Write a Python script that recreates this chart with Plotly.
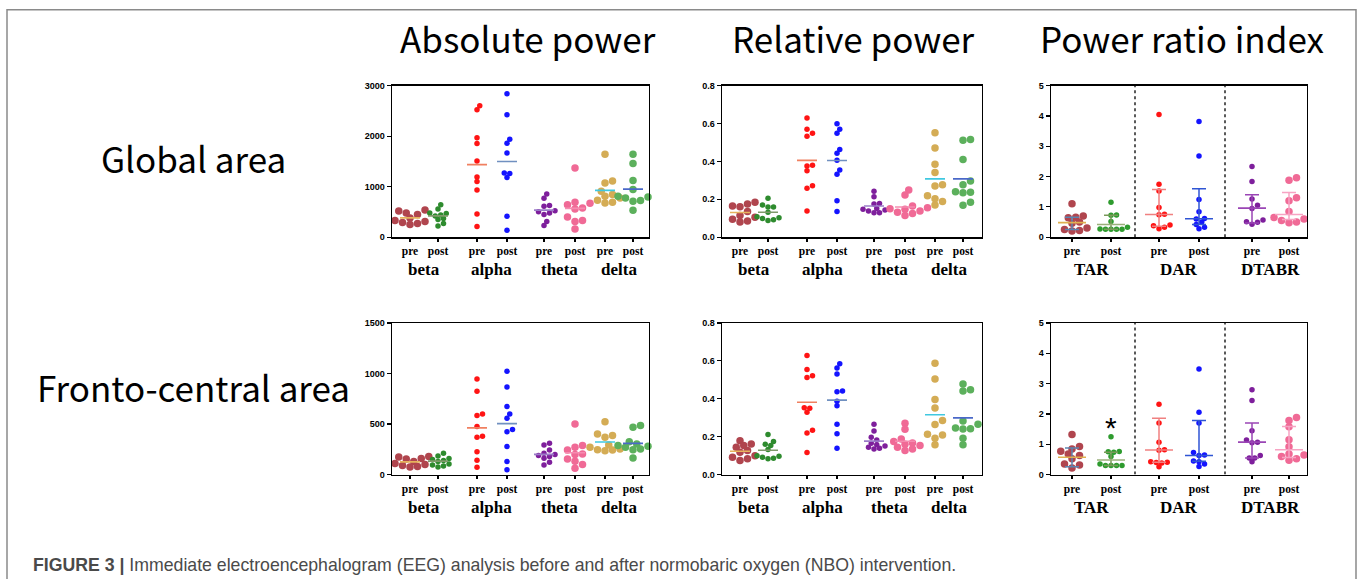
import numpy as np
import plotly.graph_objects as go

# ---------------- data ----------------
BANDS = ["beta", "alpha", "theta", "delta"]
PHASES = ["pre", "post"]
RATIOS = ["TAR", "DAR", "DTABR"]

# order of series: beta pre, beta post, alpha pre, alpha post, theta pre, theta post, delta pre, delta post
GLOBAL_ABS = [
    [540, 520, 480, 450, 380, 330, 310, 290, 270, 250],
    [640, 560, 480, 470, 440, 420, 370, 350, 270, 220],
    [2603, 2524, 1970, 1852, 1509, 1193, 1100, 936, 461, 211],
    [2840, 2425, 1938, 1858, 1667, 1272, 1259, 1180, 415, 138],
    [857, 771, 626, 613, 521, 501, 481, 448, 310, 231],
    [1370, 690, 670, 640, 580, 560, 400, 330, 310, 160],
    [1641, 1114, 1074, 909, 844, 810, 778, 731, 692, 679],
    [1641, 1456, 1120, 942, 810, 797, 778, 712, 725, 534],
]
GLOBAL_REL = [
    [0.185, 0.175, 0.165, 0.16, 0.135, 0.115, 0.105, 0.095, 0.085, 0.08],
    [0.205, 0.17, 0.159, 0.159, 0.132, 0.108, 0.102, 0.099, 0.092, 0.088],
    [0.629, 0.57, 0.549, 0.533, 0.38, 0.376, 0.351, 0.272, 0.258, 0.138],
    [0.599, 0.57, 0.549, 0.463, 0.443, 0.406, 0.355, 0.332, 0.192, 0.136],
    [0.242, 0.214, 0.178, 0.175, 0.152, 0.147, 0.143, 0.138, 0.129, 0.129],
    [0.249, 0.222, 0.164, 0.155, 0.15, 0.147, 0.138, 0.132, 0.125, 0.115],
    [0.551, 0.471, 0.385, 0.341, 0.277, 0.27, 0.219, 0.203, 0.189, 0.17],
    [0.516, 0.512, 0.41, 0.297, 0.277, 0.24, 0.237, 0.235, 0.185, 0.168],
]
FC_ABS = [
    [180, 175, 160, 155, 130, 110, 100, 90, 80, 75],
    [210, 185, 160, 150, 140, 130, 105, 95, 85, 75],
    [946, 824, 600, 584, 475, 379, 369, 227, 142, 73],
    [1022, 867, 673, 600, 557, 445, 425, 277, 129, 49],
    [310, 293, 244, 211, 198, 188, 178, 162, 122, 96],
    [501, 287, 270, 244, 204, 200, 155, 132, 99, 63],
    [524, 402, 386, 369, 293, 270, 254, 247, 244, 237],
    [485, 468, 326, 303, 287, 280, 270, 254, 247, 165],
]
FC_REL = [
    [0.179, 0.162, 0.153, 0.144, 0.127, 0.118, 0.1, 0.091, 0.083, 0.074],
    [0.211, 0.174, 0.16, 0.153, 0.132, 0.1, 0.097, 0.091, 0.086, 0.083],
    [0.629, 0.554, 0.522, 0.512, 0.353, 0.35, 0.329, 0.234, 0.22, 0.116],
    [0.585, 0.563, 0.531, 0.441, 0.437, 0.387, 0.363, 0.266, 0.216, 0.139],
    [0.266, 0.23, 0.197, 0.183, 0.165, 0.158, 0.151, 0.144, 0.139, 0.135],
    [0.271, 0.239, 0.188, 0.174, 0.167, 0.16, 0.153, 0.144, 0.135, 0.127],
    [0.587, 0.505, 0.396, 0.352, 0.285, 0.264, 0.213, 0.209, 0.192, 0.157],
    [0.478, 0.448, 0.441, 0.283, 0.266, 0.246, 0.242, 0.24, 0.192, 0.158],
]
# ratio series: TAR pre, TAR post, DAR pre, DAR post, DTABR pre, DTABR post
GLOBAL_RATIO = [
    [1.10, 0.70, 0.66, 0.64, 0.50, 0.46, 0.30, 0.25, 0.22, 0.20],
    [1.15, 0.73, 0.72, 0.52, 0.33, 0.27, 0.26, 0.26, 0.26, 0.26],
    [4.05, 1.75, 1.52, 0.98, 0.76, 0.74, 0.40, 0.38, 0.33, 0.28],
    [3.82, 2.68, 1.24, 0.84, 0.62, 0.60, 0.50, 0.42, 0.33, 0.28],
    [2.33, 1.84, 1.26, 1.05, 0.95, 0.57, 0.51, 0.49, 0.43],
    [1.96, 1.88, 1.30, 1.20, 0.85, 0.65, 0.60, 0.55, 0.50, 0.48],
]
GLOBAL_RATIO_MED = [0.48, 0.42, 0.75, 0.61, 0.96, 0.75]
GLOBAL_RATIO_LO = [0.25, 0.26, 0.36, 0.42, 0.47, 0.58]
GLOBAL_RATIO_HI = [0.66, 0.72, 1.57, 1.60, 1.40, 1.47]

FC_RATIO = [
    [1.32, 0.93, 0.84, 0.77, 0.68, 0.63, 0.52, 0.35, 0.32, 0.22],
    [1.25, 0.76, 0.75, 0.74, 0.60, 0.35, 0.30, 0.30, 0.30, 0.30],
    [2.32, 1.70, 1.07, 0.82, 0.80, 0.42, 0.41, 0.40, 0.38, 0.26],
    [3.48, 2.06, 1.70, 0.73, 0.65, 0.63, 0.45, 0.42, 0.35, 0.27],
    [2.80, 2.44, 1.45, 1.14, 1.07, 1.05, 0.63, 0.55, 0.55, 0.42],
    [1.88, 1.78, 1.58, 1.15, 0.92, 0.68, 0.65, 0.60, 0.52, 0.47],
]
FC_RATIO_MED = [0.57, 0.48, 0.81, 0.63, 1.07, 0.82]
FC_RATIO_LO = [0.26, 0.30, 0.41, 0.44, 0.55, 0.56]
FC_RATIO_HI = [0.88, 0.74, 1.86, 1.78, 1.70, 1.59]
STAR_Y = 1.73

ABS_G_TICKS = [0, 1000, 2000, 3000]
ABS_FC_TICKS = [0, 500, 1000, 1500]
REL_TICKS = [0.0, 0.2, 0.4, 0.6, 0.8]
RATIO_TICKS = [0, 1, 2, 3, 4, 5]

TITLES = ["Absolute power", "Relative power", "Power ratio index"]
ROW_LABELS = ["Global area", "Fronto-central area"]
CAPTION_BOLD = "FIGURE 3 |"
CAPTION = "Immediate electroencephalogram (EEG) analysis before and after normobaric oxygen (NBO) intervention."

# ---------------- styles / layout ----------------
W, H = 1358, 579
DOT_COLORS = ["#B0454E", "#2E8B2E", "#FF1414", "#1414FF", "#7E1F9C", "#F06A96", "#D4AC55", "#5CB05C"]
DOT_LARGE = [True, False, False, False, False, True, True, True]
MEAN_COLORS = ["#E6B35C", "#7F9A6A", "#F08060", "#7090C0", "#9B7BC8", "#F58CB0", "#40C8E0", "#4A68C8"]
RATIO_COLORS = ["#B0454E", "#2E9B2E", "#FF1414", "#1414FF", "#7E1F9C", "#F06A96"]
RATIO_LARGE = [True, False, False, False, False, True]
RATIO_MED_COLORS = ["#E0B050", "#9AAF7A", "#F08080", "#2F55D4", "#9A45B5", "#F7A3C3"]
RATIO_ERR_COLORS = ["#5B84B0", "#7A9A5A", "#F08080", "#2F55D4", "#9A45B5", "#F7A3C3"]

DOT_POS = [18, 46, 85, 115, 152, 183, 213, 241]
RATIO_POS = [21, 60, 108, 148, 201, 238]
RATIO_SEP = [84, 174]


def Y(y):
    # compensate the vertical squeeze observed in the photographed page
    return (y - 4.7) / 0.979


COLS = [(392, 649), (722, 982), (1051, 1307)]
ROWS = [(Y(85), Y(236)), (Y(321.5), Y(472.5))]
SMALL, LARGE = 5.5, 7.5


def swarm(vals, ppu, d, tight=0.8):
    vals = np.asarray(vals, dtype=float)
    order = np.argsort(vals)
    placed = []
    xs = np.zeros(len(vals))
    for i in order:
        y = vals[i] * ppu
        k = 0
        while True:
            cands = [0.0] if k == 0 else [k * d * 0.5, -k * d * 0.5]
            ok = None
            for off in cands:
                if all((off - px) ** 2 + (y - py) ** 2 >= (d * tight) ** 2 for px, py in placed):
                    ok = off
                    break
            if ok is not None:
                xs[i] = ok
                placed.append((ok, y))
                break
            k += 1
    return xs


fig = go.Figure()
annotations = []
shapes = []
layout_axes = {}

panels = [
    ("dot", GLOBAL_ABS, ABS_G_TICKS, [str(t) for t in ABS_G_TICKS], 0, 0),
    ("dot", GLOBAL_REL, REL_TICKS, ["%.1f" % t for t in REL_TICKS], 0, 1),
    ("ratio", GLOBAL_RATIO, RATIO_TICKS, [str(t) for t in RATIO_TICKS], 0, 2),
    ("dot", FC_ABS, ABS_FC_TICKS, [str(t) for t in ABS_FC_TICKS], 1, 0),
    ("dot", FC_REL, REL_TICKS, ["%.1f" % t for t in REL_TICKS], 1, 1),
    ("ratio", FC_RATIO, RATIO_TICKS, [str(t) for t in RATIO_TICKS], 1, 2),
]
ratio_stats = {0: (GLOBAL_RATIO_MED, GLOBAL_RATIO_LO, GLOBAL_RATIO_HI),
               1: (FC_RATIO_MED, FC_RATIO_LO, FC_RATIO_HI)}
GROUP_LABEL_Y = [Y(268), Y(505.5)]

for idx, (kind, data, ticks, ticktext, r, c) in enumerate(panels):
    n = idx + 1
    xa = "x" if n == 1 else "x%d" % n
    ya = "y" if n == 1 else "y%d" % n
    x0, x1 = COLS[c]
    y0, y1 = ROWS[r]
    pw, ph = x1 - x0, y1 - y0
    ymax = ticks[-1]
    ppu = ph * 0.979 / ymax

    if kind == "dot":
        pos = DOT_POS
        labels = PHASES * 4
        for s, vals in enumerate(data):
            d = LARGE if DOT_LARGE[s] else SMALL
            offs = swarm(vals, ppu, d)
            fig.add_trace(go.Scatter(
                x=pos[s] + offs, y=vals, mode="markers", xaxis=xa, yaxis=ya,
                marker=dict(size=d, color=DOT_COLORS[s], line=dict(width=0)),
                showlegend=False, hoverinfo="skip", cliponaxis=False))
        for s, vals in enumerate(data):
            m = float(np.mean(vals))
            fig.add_trace(go.Scatter(
                x=[pos[s] - 10, pos[s] + 10], y=[m, m], mode="lines", xaxis=xa, yaxis=ya,
                line=dict(color=MEAN_COLORS[s], width=1.6),
                showlegend=False, hoverinfo="skip"))
        groups = BANDS
        gpos = [(pos[2 * i] + pos[2 * i + 1]) / 2 for i in range(4)]
    else:
        pos = RATIO_POS
        labels = PHASES * 3
        for sx in RATIO_SEP:
            fig.add_trace(go.Scatter(
                x=[sx, sx], y=[0, ymax], mode="lines", xaxis=xa, yaxis=ya,
                line=dict(color="black", width=1.3, dash="dot"),
                showlegend=False, hoverinfo="skip"))
        for s, vals in enumerate(data):
            d = LARGE if RATIO_LARGE[s] else SMALL
            offs = swarm(vals, ppu, d)
            fig.add_trace(go.Scatter(
                x=pos[s] + offs, y=vals, mode="markers", xaxis=xa, yaxis=ya,
                marker=dict(size=d, color=RATIO_COLORS[s], line=dict(width=0)),
                showlegend=False, hoverinfo="skip", cliponaxis=False))
        med, lo, hi = ratio_stats[r]
        for s in range(len(data)):
            p = pos[s]
            fig.add_trace(go.Scatter(
                x=[p, p, None, p - 7, p + 7, None, p - 7, p + 7],
                y=[lo[s], hi[s], None, lo[s], lo[s], None, hi[s], hi[s]],
                mode="lines", xaxis=xa, yaxis=ya,
                line=dict(color=RATIO_ERR_COLORS[s], width=1.5),
                showlegend=False, hoverinfo="skip"))
            fig.add_trace(go.Scatter(
                x=[p - 14, p + 14], y=[med[s], med[s]], mode="lines", xaxis=xa, yaxis=ya,
                line=dict(color=RATIO_MED_COLORS[s], width=1.6),
                showlegend=False, hoverinfo="skip"))
        groups = RATIOS
        gpos = [(pos[2 * i] + pos[2 * i + 1]) / 2 for i in range(3)]
        if r == 1:
            annotations.append(dict(
                x=pos[1], y=STAR_Y, xref=xa, yref=ya, text="*",
                showarrow=False, font=dict(family="Liberation Sans", size=30, color="black"),
                yanchor="middle", yshift=-5))

    for g, gp in zip(groups, gpos):
        annotations.append(dict(
            x=gp, xref=xa, y=1 - GROUP_LABEL_Y[r] / H, yref="paper", text="<b>%s</b>" % g,
            showarrow=False, yanchor="middle",
            font=dict(family="Liberation Serif", size=17, color="black")))

    layout_axes["xaxis" if n == 1 else "xaxis%d" % n] = dict(
        domain=[x0 / W, x1 / W], anchor=ya, range=[0, pw],
        tickvals=pos, ticktext=["<b>%s</b>" % t for t in labels],
        tickfont=dict(family="Liberation Serif", size=11.5, color="black"),
        ticks="outside", ticklen=3, tickwidth=1.2, tickcolor="black",
        showline=True, linecolor="black", linewidth=1.4, mirror=True,
        showgrid=False, zeroline=False, fixedrange=True)
    layout_axes["yaxis" if n == 1 else "yaxis%d" % n] = dict(
        domain=[1 - y1 / H, 1 - y0 / H], anchor=xa, range=[0, ymax],
        tickvals=ticks, ticktext=["<b>%s</b>" % t for t in ticktext],
        tickfont=dict(family="Liberation Sans", size=9, color="black"),
        ticks="outside", ticklen=4, tickwidth=1.2, tickcolor="black",
        showline=True, linecolor="black", linewidth=1.4, mirror=True,
        showgrid=False, zeroline=False, fixedrange=True)

# column titles (visual centre ~41px from the top)
for t, cx in zip(TITLES, [528, 853, 1182]):
    annotations.append(dict(x=cx / W, y=1 - Y(37.5) / H, xref="paper", yref="paper", text=t,
                            showarrow=False, xanchor="center", yanchor="middle",
                            font=dict(family="Noto Sans CJK SC", size=35, color="black")))
# row labels
for t, cy in zip(ROW_LABELS, [160, 388]):
    annotations.append(dict(x=193 / W, y=1 - Y(cy - 3.6) / H, xref="paper", yref="paper", text=t,
                            showarrow=False, xanchor="center", yanchor="middle",
                            font=dict(family="Noto Sans CJK SC", size=35, color="black")))
# caption
annotations.append(dict(x=31 / W, y=1 - Y(562.5) / H, xref="paper", yref="paper",
                        text="<b>%s</b> %s" % (CAPTION_BOLD, CAPTION),
                        showarrow=False, xanchor="left", yanchor="middle",
                        font=dict(family="Liberation Sans", size=17.7, color="#4a4a4a")))

# outer frame: left, top and right edges (bottom lies outside the picture)
ft = 1 - Y(9.5) / H
shapes.append(dict(type="path", xref="paper", yref="paper",
                   path="M %f -0.05 L %f %f L %f %f L %f -0.05" % (
                       7 / W, 7 / W, ft, 1356 / W, ft, 1356 / W),
                   line=dict(color="#8a8a8a", width=1.5)))

fig.update_layout(
    width=W, height=H, margin=dict(l=0, r=0, t=0, b=0),
    paper_bgcolor="white", plot_bgcolor="white",
    showlegend=False, annotations=annotations, shapes=shapes,
    **layout_axes)

fig.write_html(
    "out.html",
    config={"displayModeBar": False, "staticPlot": True},
    post_script=("var s=document.documentElement.style;s.margin='0';s.padding='0';s.overflow='hidden';"
                 "var b=document.body.style;b.margin='0';b.padding='0';b.overflow='hidden';"))
